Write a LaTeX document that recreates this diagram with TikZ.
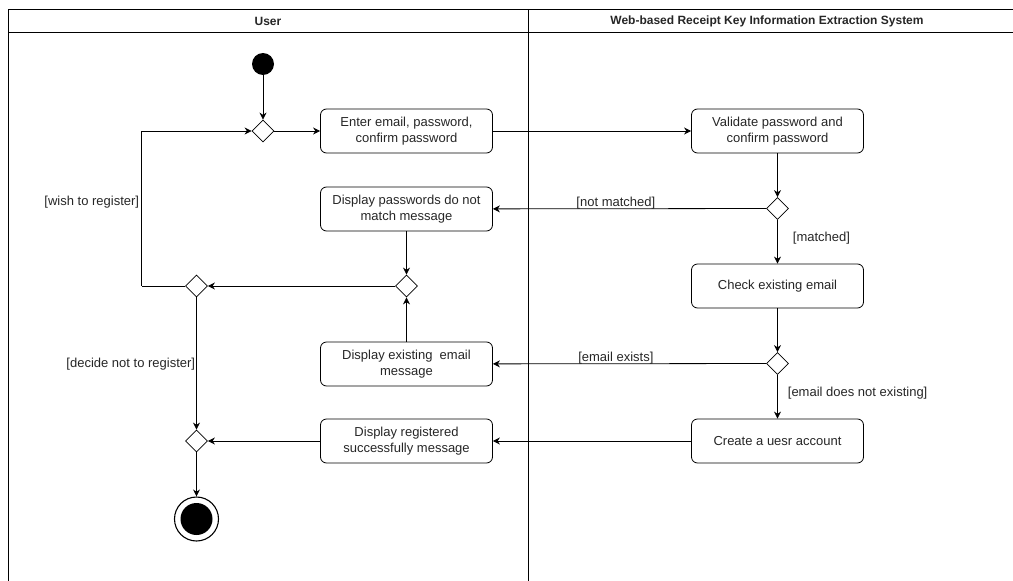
\documentclass[tikz,border=0pt]{standalone}
\usepackage{fontspec}
\setmainfont{Liberation Sans}
\usetikzlibrary{shapes.geometric,arrows.meta}
\definecolor{ink}{HTML}{262626}
\begin{document}
\begin{tikzpicture}[x=1pt,y=-1pt,
  every node/.style={font=\fontsize{13}{15.5}\selectfont, text=ink},
  lanehead/.style={font=\bfseries\fontsize{12}{14}\selectfont},
  action/.style={draw=black, line width=0.8pt, rounded corners=6pt,
    minimum width=172pt, minimum height=44pt, align=center, inner sep=2pt},
  choice/.style={draw=black, line width=0.8pt, diamond, minimum width=22pt,
    minimum height=22pt, inner sep=0pt, fill=white},
  flow/.style={-{Stealth[length=7pt,width=7pt]}, line width=0.8pt},
  wire/.style={line width=0.8pt},
  guard/.style={inner sep=1pt}]
\useasboundingbox (0,0) rectangle (1013,581);

% swimlane frame
\draw[line width=0.9pt] (8,9.5) -- (1013,9.5);
\draw[line width=0.9pt] (8,32) -- (1013,32);
\draw[line width=0.9pt] (8,9.5) -- (8,581);
\draw[line width=0.9pt] (528,9.5) -- (528,581);
\node[lanehead] (laneU) at (268,21) {User};
\node[lanehead] (laneS) at (767,21) {Web-based Receipt Key Information Extraction System};

% nodes
\node[circle, fill=black, minimum size=22pt, inner sep=0pt] (start) at (263,64) {};
\node[choice] (d1) at (263,131) {};
\node[action] (enter) at (406.5,131) {Enter email, password,\\confirm password};
\node[action] (validate) at (777.5,131) {Validate password and\\confirm password};
\node[choice] (d4) at (777.5,208.5) {};
\node[action] (nomatch) at (406.5,209) {Display passwords do not\\match message};
\node[action] (check) at (777.5,286) {Check existing email};
\node[choice] (d2) at (406.5,286) {};
\node[choice] (d3) at (196.5,286) {};
\node[choice] (d5) at (777.5,363.5) {};
\node[action] (exists) at (406.5,364) {Display existing\ \ email\\message};
\node[action] (create) at (777.5,441) {Create a uesr account};
\node[action] (done) at (406.5,441) {Display registered\\successfully message};
\node[choice] (d6) at (196.5,441) {};
\node[circle, draw=black, line width=1.1pt, minimum size=44pt, inner sep=0pt] (finish) at (196.5,519) {};
\node[circle, fill=black, minimum size=32pt, inner sep=0pt] (finishdot) at (finish) {};
\coordinate (loopB) at (141.5,286);
\coordinate (loopT) at (141.5,131);

% connectors
\draw[flow] (start) -- (d1);
\draw[flow] (d1) -- (enter);
\draw[flow] (enter) -- (validate);
\draw[flow] (validate) -- (d4);
\draw[flow] (d4) -- node[guard, pos=0.55, anchor=south, yshift=-2pt] {[not matched]} (nomatch);
\draw[flow] (d4) -- node[guard, right, xshift=14pt, yshift=4pt] {[matched]} (check);
\draw[flow] (nomatch) -- (d2);
\draw[flow] (check) -- (d5);
\draw[flow] (d5) -- node[guard, pos=0.55, anchor=south, yshift=-2pt] {[email exists]} (exists);
\draw[flow] (d5) -- node[guard, right, xshift=9pt, yshift=4pt] {[email does not existing]} (create);
\draw[flow] (exists) -- (d2);
\draw[flow] (d2) -- (d3);
\draw[wire] (d3) -- (loopB);
\draw[flow] (loopB) -- node[guard, left, pos=0.54, xshift=-1pt] {[wish to register]} (loopT) -- (d1);
\draw[flow] (d3) -- node[guard, left, pos=0.5, yshift=-1pt] {[decide not to register]} (d6);
\draw[flow] (create) -- (done);
\draw[flow] (done) -- (d6);
\draw[flow] (d6) -- (finish);
\end{tikzpicture}
\end{document}
